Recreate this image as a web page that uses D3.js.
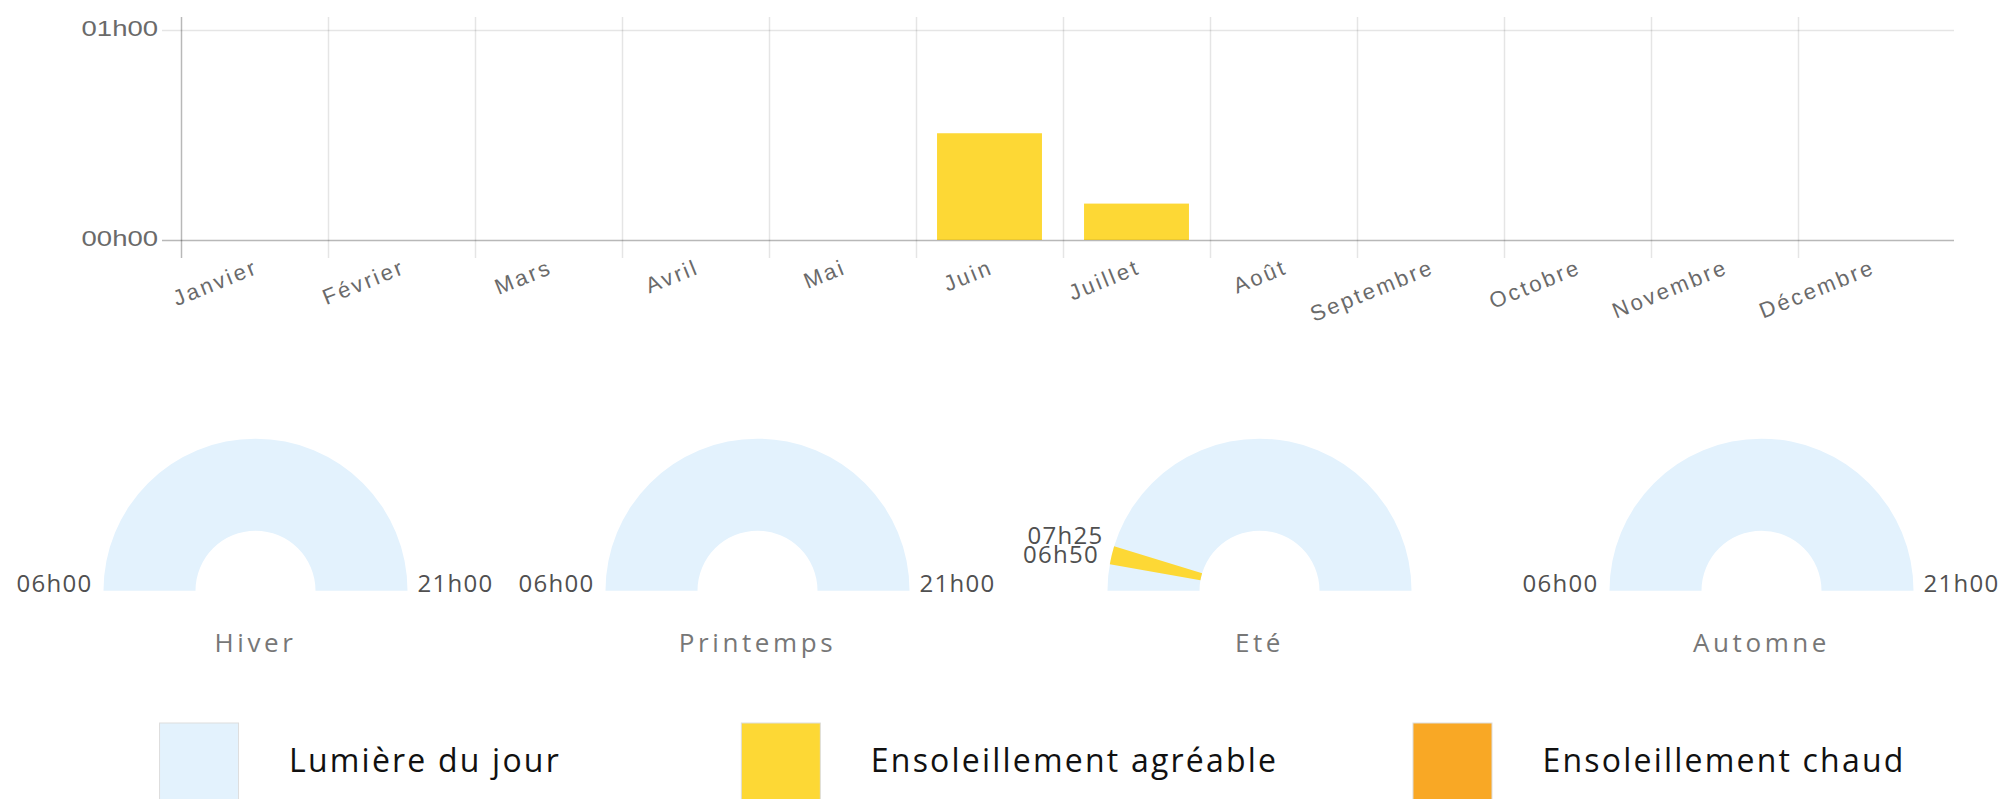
<!DOCTYPE html>
<html lang="fr">
<head>
<meta charset="utf-8">
<script src="https://cdn.jsdelivr.net/npm/d3@7/dist/d3.min.js"></script>
<style>
html, body {
    margin: 0;
    padding: 0;
    background: #fff;
}
#chart {
    width: 2003px;
    height: 799px;
}
</style>
</head>
<body>
<div id="chart"></div>
<script>
// données du graphique mensuel (minutes d'ensoleillement agréable)
var months = ["Janvier", "Février", "Mars", "Avril", "Mai", "Juin", "Juillet", "Août", "Septembre", "Octobre", "Novembre", "Décembre"];
var pleasantMinutes = [0, 0, 0, 0, 0, 30.5, 10.4, 0, 0, 0, 0, 0];
var yTicks = [0, 60];
var yTickLabels = ["00h00", "01h00"];

// données des saisons (minutes depuis minuit)
var seasons = ["Hiver", "Printemps", "Eté", "Automne"];
var daylightStart = [360, 360, 360, 360];
var daylightEnd = [1260, 1260, 1260, 1260];
var pleasantStart = [null, null, 410, null];
var pleasantEnd = [null, null, 445, null];

// légende
var legendNames = ["Lumière du jour", "Ensoleillement agréable", "Ensoleillement chaud"];
var legendColors = ["#e3f2fd", "#fdd835", "#f9a825"];

var width = 2003, height = 799;
var svg = d3.select("#chart").append("svg")
    .attr("width", width)
    .attr("height", height);

function fmt(m) {
    var h = Math.floor(m / 60), mm = Math.round(m % 60);
    return (h < 10 ? "0" : "") + h + "h" + (mm < 10 ? "0" : "") + mm;
}

// ---------- graphique en barres ----------
var xScale = d3.scaleBand().domain(months).range([181, 1945]);
var yScale = d3.scaleLinear().domain([0, 60]).range([240, 30]);
var inner = d3.scaleBand().domain(["v"]).range([0, xScale.bandwidth()]).padding(0.167);

var barLayer = svg.append("g");
var gridLayer = svg.append("g");

// lignes horizontales
gridLayer.selectAll(".hgrid")
    .data(yTicks)
    .enter().append("line")
    .attr("x1", 162).attr("x2", 1954)
    .attr("y1", function(d){ return yScale(d) + 0.5; })
    .attr("y2", function(d){ return yScale(d) + 0.5; })
    .attr("stroke", function(d){ return d === 0 ? "rgba(0,0,0,0.28)" : "rgba(0,0,0,0.1)"; })
    .attr("stroke-width", 1.5);

// lignes verticales
gridLayer.selectAll(".vgrid")
    .data(months)
    .enter().append("line")
    .attr("x1", function(d){ return xScale(d) + 0.5; })
    .attr("x2", function(d){ return xScale(d) + 0.5; })
    .attr("y1", 17).attr("y2", 258)
    .attr("stroke", function(d, i){ return i === 0 ? "rgba(0,0,0,0.28)" : "rgba(0,0,0,0.1)"; })
    .attr("stroke-width", 1.5);

// barres
barLayer.selectAll(".bar")
    .data(pleasantMinutes)
    .enter().append("rect")
    .attr("x", function(d, i){ return xScale(months[i]) + inner("v"); })
    .attr("width", inner.bandwidth())
    .attr("y", function(d){ return yScale(d); })
    .attr("height", function(d){ return yScale(0) - yScale(d); })
    .attr("fill", "#fdd835");

// étiquettes de l'axe y
gridLayer.selectAll(".ylab")
    .data(yTicks)
    .enter().append("text")
    .attr("transform", function(d){ return "translate(" + [158, yScale(d) + 6] + ") scale(1.25,1)"; })
    .attr("text-anchor", "end")
    .attr("font-family", "Liberation Sans, Arial, sans-serif")
    .attr("font-size", 22)
    .attr("fill", "#6a6a6a")
    .text(function(d, i){ return yTickLabels[i]; });

// étiquettes des mois
gridLayer.selectAll(".xlab")
    .data(months)
    .enter().append("text")
    .attr("transform", function(d){
        return "translate(" + [xScale(d) + xScale.bandwidth() / 2 - 1, 258] + ") rotate(-22)";
    })
    .attr("y", 16)
    .attr("text-anchor", "end")
    .attr("font-family", "Liberation Sans, Arial, sans-serif")
    .attr("font-size", 22)
    .attr("letter-spacing", 2.6)
    .attr("fill", "#6a6a6a")
    .text(function(d){ return d; });

// ---------- jauges saisonnières ----------
var colScale = d3.scaleBand().domain(seasons).range([14, 2022]);
var angle = d3.scaleLinear().domain([360, 1260]).range([-Math.PI / 2, Math.PI / 2]);
var R = 152, r = 60, cy = 590.7;
var arc = d3.arc().innerRadius(r).outerRadius(R);
var defs = svg.append("defs");

seasons.forEach(function(s, i){
    var left = colScale(s);
    var cx = left + 241.5;

    defs.append("clipPath").attr("id", "clip" + i)
        .append("rect")
        .attr("x", left).attr("y", 400)
        .attr("width", colScale.bandwidth()).attr("height", 290);

    var outer = svg.append("g").attr("clip-path", "url(#clip" + i + ")");
    var g = outer.append("g").attr("transform", "translate(" + [cx, cy] + ")");

    g.append("path")
        .attr("d", arc({startAngle: angle(daylightStart[i]), endAngle: angle(daylightEnd[i])}))
        .attr("fill", "#e3f2fd");

    var labels;
    if (pleasantStart[i] != null) {
        g.append("path")
            .attr("d", arc({startAngle: angle(pleasantStart[i]), endAngle: angle(pleasantEnd[i])}))
            .attr("fill", "#fdd835");
        labels = [pleasantStart[i], pleasantEnd[i]];
    } else {
        labels = [daylightStart[i], daylightEnd[i]];
    }

    g.selectAll(".glab")
        .data(labels)
        .enter().append("text")
        .attr("x", function(d){ return angle(d) < 0 ? (R + 11) * Math.sin(angle(d)) : (R + 10) * Math.sin(angle(d)); })
        .attr("y", function(d){ return -(R + 12) * Math.cos(angle(d)) + 1; })
        .attr("text-anchor", function(d){ return angle(d) < 0 ? "end" : "start"; })
        .attr("font-family", "Open Sans, sans-serif")
        .attr("font-size", 24)
        .attr("letter-spacing", 1.3)
        .attr("fill", "#505050")
        .text(function(d){ return fmt(d); });

    g.append("text")
        .attr("x", 0)
        .attr("y", 61)
        .attr("text-anchor", "middle")
        .attr("font-family", "Open Sans, sans-serif")
        .attr("font-size", 26)
        .attr("letter-spacing", 3.6)
        .attr("fill", "#777")
        .text(s);
});

// ---------- légende ----------
var legendCenter = d3.scalePoint().domain(legendNames).range([360, 1659]);
legendNames.forEach(function(name, i){
    var g = svg.append("g");
    var t = g.append("text")
        .attr("font-family", "Open Sans, sans-serif")
        .attr("font-size", 32)
        .attr("letter-spacing", 2.2)
        .attr("fill", "#111")
        .attr("y", 772)
        .text(name);
    var tw = t.node().getComputedTextLength();
    var x0 = legendCenter(name) - (79 + 51 + tw) / 2;
    t.attr("x", x0 + 130);
    g.insert("rect", "text")
        .attr("x", x0 + 0.5)
        .attr("y", 723)
        .attr("width", 79)
        .attr("height", 90)
        .attr("fill", legendColors[i])
        .attr("stroke", "#ddd")
        .attr("stroke-width", 1);
});
</script>
</body>
</html>
